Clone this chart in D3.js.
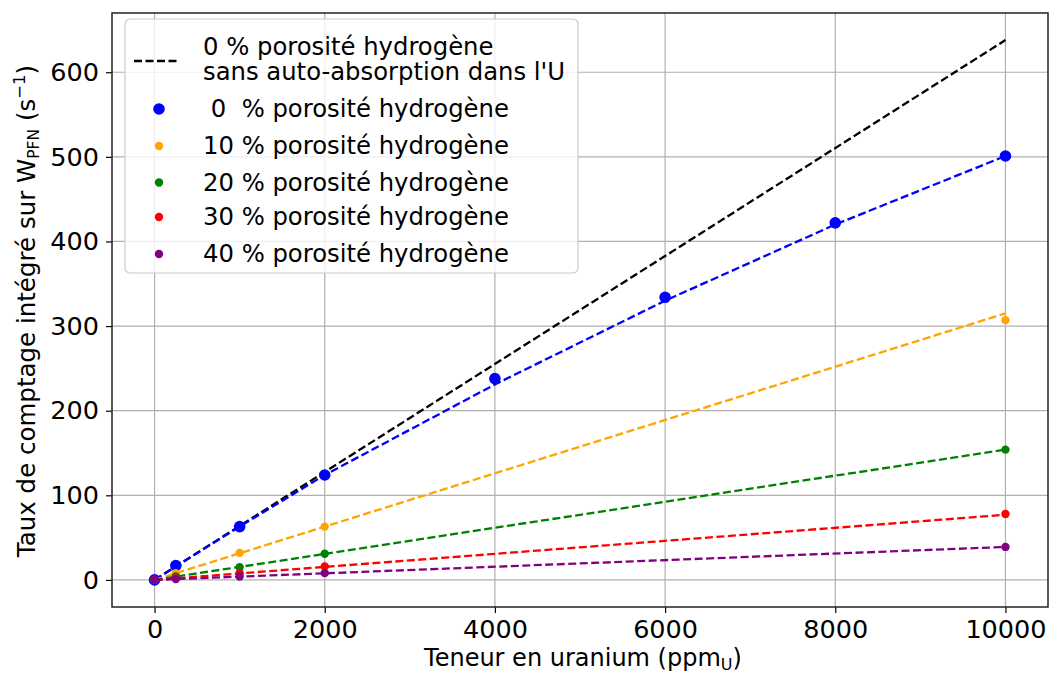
<!DOCTYPE html>
<html>
<head>
<meta charset="utf-8">
<script src="https://cdn.jsdelivr.net/npm/d3@7"></script>
<style>
  body { margin: 0; background: #fff; }
  svg text { font-family: "DejaVu Sans", sans-serif; fill: #000; }
</style>
</head>
<body>
<div id="chart"></div>
<script>
// uranium content (ppm U) at which samples were simulated
const ppm = [0, 250, 1000, 2000, 4000, 6000, 8000, 10000];
const ppmShort = [0, 250, 1000, 2000, 10000];

// measured count rates (s^-1)
const rate0 = [0, 17, 63, 124, 238, 334, 422, 501];
const rate10 = [0, 8, 32, 63, 307];
const rate20 = [0, 4, 15, 31, 154];
const rate30 = [0, 2, 8, 16, 78];
const rate40 = [0, 1, 4, 8, 39];

// fitted curves (dashed)
const fitX = [0, 10000];
const fitNoAbs = [0, 638];
const fit0 = [0, 16, 63, 124, 231, 330, 420, 501];
const fit10 = [0, 315];
const fit20 = [0, 154];
const fit30 = [0, 77];
const fit40 = [0, 39];

const xTicks = [0, 2000, 4000, 6000, 8000, 10000];
const yTicks = [0, 100, 200, 300, 400, 500, 600];

const series = [
  { label: " 0  % porosité hydrogène", color: "blue", x: ppm, y: rate0, fx: ppm, fy: fit0, r: 5.8 },
  { label: "10 % porosité hydrogène", color: "orange", x: ppmShort, y: rate10, fx: fitX, fy: fit10, r: 4.2 },
  { label: "20 % porosité hydrogène", color: "green", x: ppmShort, y: rate20, fx: fitX, fy: fit20, r: 4.2 },
  { label: "30 % porosité hydrogène", color: "red", x: ppmShort, y: rate30, fx: fitX, fy: fit30, r: 4.2 },
  { label: "40 % porosité hydrogène", color: "purple", x: ppmShort, y: rate40, fx: fitX, fy: fit40, r: 4.2 }
];

const width = 1052, height = 674;
const margin = { top: 13, right: 4, bottom: 67, left: 112 };

const svg = d3.select("#chart").append("svg")
  .attr("width", width)
  .attr("height", height);

const x = d3.scaleLinear().domain([-500, 10500]).range([margin.left, width - margin.right]);
const y = d3.scaleLinear().domain([-32, 670]).range([height - margin.bottom, margin.top]);

// grid
svg.append("g").selectAll("line").data(xTicks).join("line")
  .attr("x1", d => x(d)).attr("x2", d => x(d))
  .attr("y1", margin.top).attr("y2", height - margin.bottom)
  .attr("stroke", "#b0b0b0").attr("stroke-width", 1.2);
svg.append("g").selectAll("line").data(yTicks).join("line")
  .attr("y1", d => y(d)).attr("y2", d => y(d))
  .attr("x1", margin.left).attr("x2", width - margin.right)
  .attr("stroke", "#b0b0b0").attr("stroke-width", 1.2);

// axes
const xAxis = svg.append("g")
  .attr("transform", `translate(0,${height - margin.bottom})`)
  .call(d3.axisBottom(x).tickValues(xTicks).tickFormat(d3.format("d")).tickSizeOuter(0).tickSize(6).tickPadding(7));
const yAxis = svg.append("g")
  .attr("transform", `translate(${margin.left},0)`)
  .call(d3.axisLeft(y).tickValues(yTicks).tickSizeOuter(0).tickSize(6).tickPadding(7));
[xAxis, yAxis].forEach(a => {
  a.select(".domain").remove();
  a.selectAll("text").attr("font-size", 25.5).attr("font-family", "DejaVu Sans").attr("fill", "#000");
  a.selectAll("line").attr("stroke", "#000").attr("stroke-width", 1.2);
});

// frame
svg.append("rect")
  .attr("x", margin.left).attr("y", margin.top)
  .attr("width", width - margin.right - margin.left)
  .attr("height", height - margin.bottom - margin.top)
  .attr("fill", "none").attr("stroke", "#222").attr("stroke-width", 1.5);

const line = d3.line().x(d => x(d[0])).y(d => y(d[1]));
const dash = "8,3.5";

// theoretical line without self-absorption
svg.append("path")
  .datum(fitX.map((v, i) => [v, fitNoAbs[i]]))
  .attr("d", line).attr("fill", "none")
  .attr("stroke", "black").attr("stroke-width", 2.3).attr("stroke-dasharray", dash);

series.forEach(s => {
  svg.append("path")
    .datum(s.fx.map((v, i) => [v, s.fy[i]]))
    .attr("d", line).attr("fill", "none")
    .attr("stroke", s.color).attr("stroke-width", 2.3).attr("stroke-dasharray", dash);
  svg.append("g").selectAll("circle")
    .data(s.x.map((v, i) => [v, s.y[i]]))
    .join("circle")
    .attr("cx", d => x(d[0])).attr("cy", d => y(d[1]))
    .attr("r", s.r).attr("fill", s.color);
});

// axis labels
const xl = svg.append("text")
  .attr("x", 583).attr("y", 666)
  .attr("text-anchor", "middle").attr("font-size", 24)
  .text("Teneur en uranium (ppm");
xl.append("tspan").attr("font-size", 16).attr("dy", 4).text("U");
xl.append("tspan").attr("font-size", 24).attr("dy", -4).text(")");

const yl = svg.append("text")
  .attr("transform", `translate(35,311) rotate(-90)`)
  .attr("text-anchor", "middle").attr("font-size", 24.5)
  .text("Taux de comptage intégré sur W");
yl.append("tspan").attr("font-size", 15.5).attr("dy", 4).text("PFN");
yl.append("tspan").attr("font-size", 24.5).attr("dy", -4).text(" (s");
yl.append("tspan").attr("font-size", 16.5).attr("dy", -10).text("−1");
yl.append("tspan").attr("font-size", 24.5).attr("dy", 10).text(")");

// legend
const lg = svg.append("g");
lg.append("rect")
  .attr("x", 125).attr("y", 19).attr("width", 453).attr("height", 254)
  .attr("rx", 5).attr("fill", "white").attr("fill-opacity", 0.8)
  .attr("stroke", "#ccc").attr("stroke-width", 1.2);
lg.append("line")
  .attr("x1", 134).attr("x2", 180).attr("y1", 61).attr("y2", 61)
  .attr("stroke", "black").attr("stroke-width", 2.3).attr("stroke-dasharray", dash);
lg.append("text").attr("x", 203).attr("y", 55).attr("font-size", 24.3).text("0 % porosité hydrogène");
lg.append("text").attr("x", 203).attr("y", 80).attr("font-size", 24.3).text("sans auto-absorption dans l'U");
const rowY = [109, 146, 182.5, 217, 254];
series.forEach((s, i) => {
  lg.append("circle").attr("cx", 159).attr("cy", rowY[i]).attr("r", s.r).attr("fill", s.color);
  lg.append("text").attr("x", 203).attr("y", rowY[i] + 8).attr("font-size", 24.3)
    .attr("xml:space", "preserve").style("white-space", "pre").text(s.label);
});
</script>
</body>
</html>
